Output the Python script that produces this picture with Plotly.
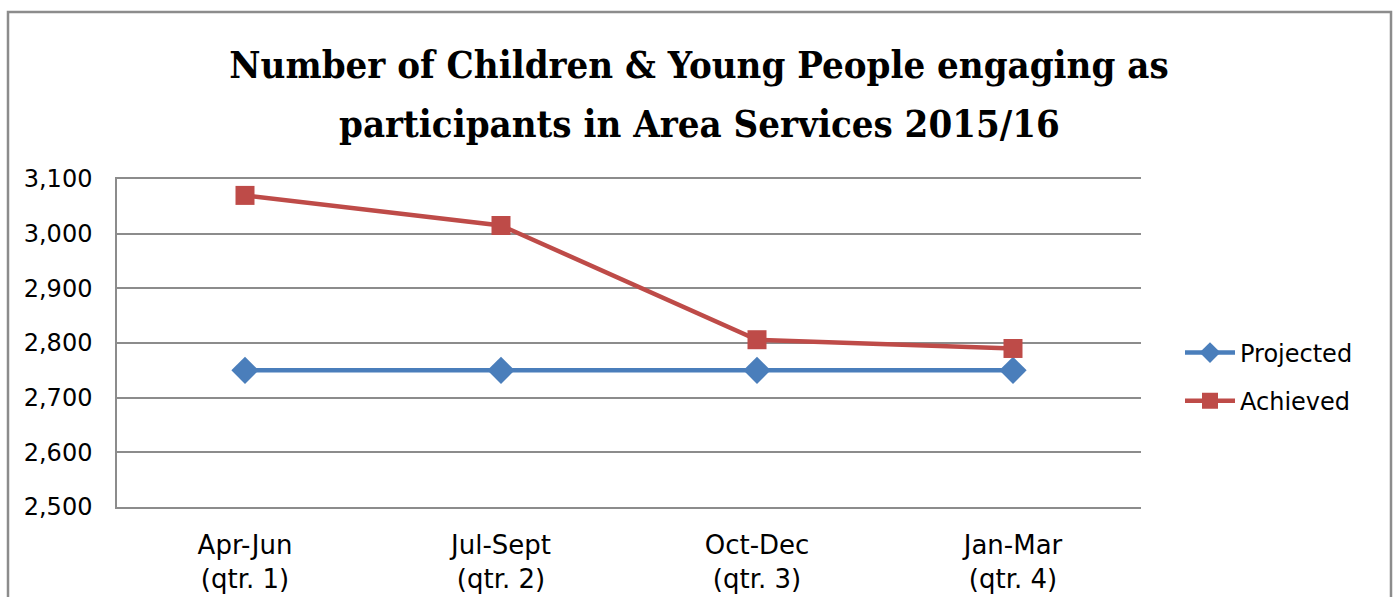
import plotly.graph_objects as go

categories = ["Apr-Jun<br>(qtr. 1)", "Jul-Sept<br>(qtr. 2)", "Oct-Dec<br>(qtr. 3)", "Jan-Mar<br>(qtr. 4)"]
projected = [2750, 2750, 2750, 2750]
achieved = [3070, 3015, 2806, 2790]
title_lines = ["Number of Children & Young People engaging as",
               "participants in Area Services 2015/16"]

W, H = 1398, 597
L, R, T, B = 117, 257, 179, 90
pw = W - L - R
ph = H - T - B

fig = go.Figure()
fig.add_trace(go.Scatter(
    x=categories, y=projected, name="Projected", mode="lines+markers",
    line=dict(color="#4A7EBB", width=4.5),
    marker=dict(symbol="diamond", size=21, color="#4A7EBB"),
    legendgroup="a",
))
fig.add_trace(go.Scatter(
    x=categories, y=achieved, name="Achieved", mode="lines+markers",
    line=dict(color="#BE4B48", width=4.5),
    marker=dict(symbol="square", size=19, color="#BE4B48"),
    legendgroup="b",
))

font_main = "'DejaVu Sans', sans-serif"
title_font = dict(family="'DejaVu Serif Condensed', 'DejaVu Serif', serif", size=38,
                  color="black", weight="bold")
grid = "#8C8C8C"

fig.update_layout(
    width=W, height=H,
    margin=dict(l=L, r=R, t=T, b=B, autoexpand=False),
    paper_bgcolor="white", plot_bgcolor="white",
    title=dict(
        text=title_lines[0],
        x=699 / W, xref="container", xanchor="center",
        y=1 - 65 / H, yref="container", yanchor="middle",
        font=title_font,
    ),
    annotations=[dict(
        text=title_lines[1], xref="paper", yref="paper",
        x=(699 - L) / pw, y=(T + ph - 123) / ph, xanchor="center", yanchor="middle",
        showarrow=False, font=title_font,
    )],
    showlegend=True,
    legend=dict(
        x=(1180 - L) / pw, y=(T + ph - 377) / ph, xanchor="left", yanchor="middle",
        xref="paper", yref="paper",
        font=dict(family=font_main, size=24, color="black"),
        traceorder="grouped", tracegroupgap=14, itemwidth=50,
        bgcolor="rgba(0,0,0,0)",
    ),
    xaxis=dict(
        type="category", range=[-0.5, 3.5], showgrid=False, zeroline=False,
        showline=True, mirror=True, linecolor=grid, linewidth=1.5, ticks="",
        tickfont=dict(family=font_main, size=26, color="black"),
        ticklabelstandoff=14, automargin=False,
    ),
    yaxis=dict(
        range=[2500, 3100], dtick=100, tickformat=",",
        showgrid=True, gridcolor=grid, gridwidth=1.5,
        zeroline=False, showline=True, linecolor=grid, linewidth=1.5,
        ticks="", ticklabelstandoff=18, automargin=False,
        tickfont=dict(family=font_main, size=24, color="black"),
    ),
    shapes=[dict(
        type="rect", xref="paper", yref="paper",
        x0=(8 - L) / pw, x1=(1391 - L) / pw,
        y0=(T + ph - 620) / ph, y1=(T + ph - 12) / ph,
        line=dict(color=grid, width=2.5), fillcolor="rgba(0,0,0,0)", layer="below",
    )],
)

fig.write_html("out.html", config={"displayModeBar": False},
               post_script="document.body.style.margin='0';")
